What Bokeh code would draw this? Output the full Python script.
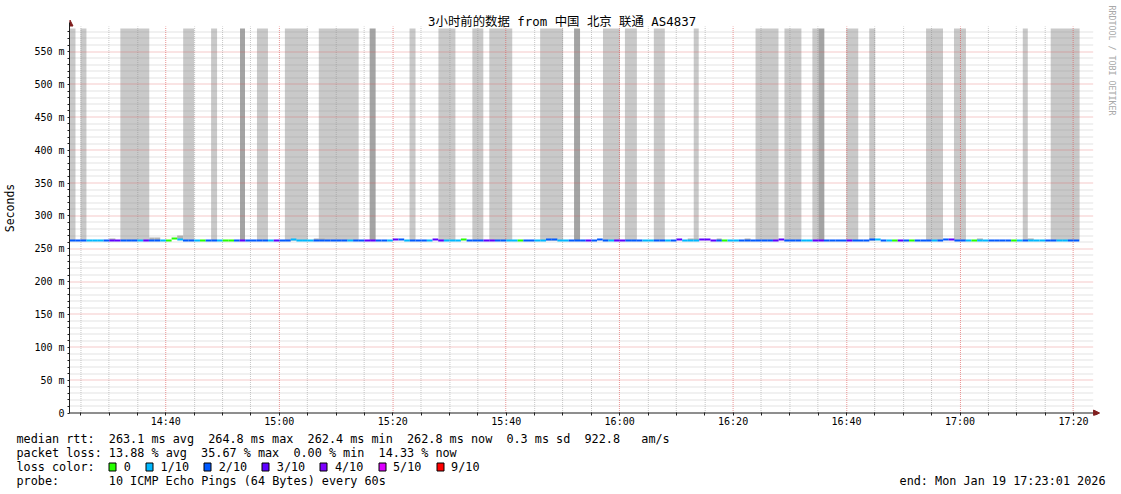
import re
import math
from bokeh.plotting import figure
from bokeh.layouts import column
from bokeh.models import FixedTicker, ColumnDataSource, Range1d
from bokeh.core.properties import value
from bokeh.embed import file_html
from bokeh.resources import INLINE

# ---------------------------------------------------------------- data
TITLE = "3小时前的数据 from 中国 北京 联通 AS4837"
START = "14:23:01"
END = "17:23:01"
Y_LABEL = "Seconds"
SIDE_TEXT = "RRDTOOL / TOBI OETIKER"

X_TICK_LABELS = ["14:40", "15:00", "15:20", "15:40", "16:00", "16:20", "16:40", "17:00", "17:20"]
Y_TICKS = [0, 50, 100, 150, 200, 250, 300, 350, 400, 450, 500, 550]
Y_TICK_LABELS = ["0", "50 m", "100 m", "150 m", "200 m", "250 m", "300 m", "350 m",
                 "400 m", "450 m", "500 m", "550 m"]
Y_UPPER = 587.5      # graph upper limit (ms)

# median rtt (ms) per 60 s step, starting at START
MEDIAN = [
    263.0, 263.1, 263.0, 263.0, 262.9, 263.0, 263.0, 263.1, 263.0, 263.0,
    263.0, 263.0, 262.9, 263.0, 263.0, 263.1, 263.0, 263.0, 265.8, 264.5,
    263.0, 263.0, 263.0, 262.9, 263.0, 263.0, 263.0, 263.1, 263.0, 263.0,
    263.0, 263.0, 263.0, 262.9, 263.0, 263.0, 263.1, 263.0, 263.0, 264.5,
    263.0, 263.0, 263.0, 263.1, 263.0, 263.0, 262.9, 263.0, 263.0, 263.0,
    263.0, 263.1, 263.0, 263.0, 263.0, 262.9, 263.0, 264.5, 264.4, 263.0,
    263.0, 263.0, 263.1, 263.0, 264.5, 263.0, 263.0, 262.9, 263.0, 264.4,
    263.0, 263.1, 263.0, 263.0, 263.0, 263.0, 262.9, 263.0, 263.0, 263.1,
    263.0, 263.0, 263.0, 263.0, 264.5, 264.4, 263.0, 263.0, 263.1, 263.0,
    263.0, 263.0, 262.9, 264.5, 263.0, 263.0, 263.0, 263.1, 263.0, 263.0,
    263.0, 263.0, 263.0, 262.9, 263.0, 263.0, 263.0, 264.5, 263.0, 263.1,
    263.0, 264.5, 264.4, 263.0, 263.0, 263.0, 262.9, 263.0, 263.0, 263.0,
    263.1, 263.0, 263.0, 263.0, 263.0, 264.5, 263.0, 263.0, 262.9, 263.0,
    263.0, 263.0, 263.1, 263.0, 263.0, 263.0, 263.0, 263.0, 262.9, 263.0,
    263.0, 264.5, 264.4, 263.0, 263.0, 263.1, 263.0, 263.0, 263.0, 263.0,
    262.9, 263.0, 263.0, 263.0, 264.5, 264.4, 263.0, 263.1, 263.0, 263.0,
    263.0, 263.0, 263.0, 262.9, 263.0, 263.0, 263.0, 262.2, 263.0, 263.1,
    263.0, 263.0, 263.0, 263.0, 262.9, 263.0, 263.0, 263.0, None, None,
]

# lost pings out of 10 per step
LOSS = [
    2, 2, 2, 1, 1, 1, 2, 3, 3, 2,
    2, 2, 1, 3, 2, 2, 1, 0, 0, 1,
    2, 2, 1, 0, 2, 2, 1, 0, 0, 2,
    3, 2, 2, 2, 2, 1, 3, 2, 2, 1,
    1, 1, 1, 2, 2, 2, 2, 2, 2, 1,
    2, 2, 3, 3, 2, 2, 1, 3, 2, 1,
    2, 2, 2, 1, 3, 3, 1, 1, 1, 0,
    2, 2, 2, 3, 3, 2, 2, 1, 1, 0,
    2, 2, 1, 1, 2, 2, 1, 1, 2, 2,
    2, 3, 2, 2, 2, 1, 3, 3, 2, 2,
    2, 1, 1, 2, 2, 1, 2, 3, 1, 1,
    1, 3, 3, 3, 2, 0, 1, 1, 2, 2,
    2, 2, 2, 2, 3, 3, 2, 2, 2, 1,
    1, 3, 3, 2, 2, 2, 2, 3, 2, 2,
    2, 2, 1, 2, 1, 0, 3, 2, 0, 2,
    2, 2, 1, 2, 2, 3, 2, 2, 1, 0,
    1, 1, 2, 2, 2, 2, 0, 1, 2, 1,
    1, 1, 2, 2, 1, 1, 2, 2, None, None,
]

# smoke that runs off the top of the graph (clock time ranges); dark = 2 layers
SMOKE_START = ["14:23", "14:25", "14:32", "14:43", "14:48", "14:53", "14:56", "15:01",
               "15:07", "15:16", "15:23", "15:28", "15:34", "15:37", "15:46", "15:52",
               "15:57", "16:01", "16:06", "16:13", "16:24", "16:29", "16:34", "16:35",
               "16:40", "16:44", "16:54", "16:59", "17:11", "17:16"]
SMOKE_END = ["14:24", "14:26", "14:37", "14:45", "14:49", "14:54", "14:58", "15:05",
             "15:14", "15:17", "15:24", "15:31", "15:36", "15:41", "15:50", "15:53",
             "16:00", "16:03", "16:08", "16:14", "16:28", "16:32", "16:35", "16:36",
             "16:42", "16:45", "16:57", "17:01", "17:12", "17:21"]
SMOKE_DARK = [0, 0, 0, 0, 0, 1, 0, 0, 0, 1, 0, 0, 0, 0, 0, 1,
              0, 0, 0, 0, 0, 0, 0, 1, 0, 0, 0, 0, 0, 0]
SMOKE_TOP = 585.0

# small smoke just above the median (step index, max rtt ms)
SMALL_SMOKE_STEP = [7, 14, 15, 19, 43, 44, 109, 110, 114, 119, 160, 169]
SMALL_SMOKE_MAX = [265.6, 267.0, 267.0, 270.0, 265.5, 265.5, 266.0, 266.0, 266.0, 266.0, 266.0, 266.0]

LOSS_LEVELS = [0, 1, 2, 3, 4, 5, 9]
LOSS_LABELS = ["0", "1/10", "2/10", "3/10", "4/10", "5/10", "9/10"]
LOSS_COLORS = ["#26ff00", "#00b8ff", "#0059ff", "#5e00ff", "#7e00ff", "#dd00ff", "#ff0000"]

LEGEND_1 = "median rtt:  263.1 ms avg  264.8 ms max  262.4 ms min  262.8 ms now  0.3 ms sd  922.8   am/s"
LEGEND_2 = "packet loss: 13.88 % avg  35.67 % max  0.00 % min  14.33 % now"
LEGEND_3 = "loss color:"
LEGEND_4 = "probe:       10 ICMP Echo Pings (64 Bytes) every 60s"
END_TEXT = "end: Mon Jan 19 17:23:01 2026"

# ---------------------------------------------------------------- helpers
def clock(s):
    parts = [int(v) for v in s.split(":")]
    sec = parts[2] if len(parts) > 2 else 0
    return (parts[0] - 14) * 60 + parts[1] + sec / 60.0   # minutes since 14:00

t_start = clock(START)
t_end = clock(END)

MONO = "DejaVu Sans Mono, Noto Sans CJK SC, monospace"

# page geometry (canvas starts at page 0,0)
W = 1121
H_MAIN = 430
H_LEG = 64
FL = 66                 # frame left (y axis)
Y0 = 412.5              # page position of value 0 (centre of pixel row 412)
FRAME_BOTTOM = 415
PLOT_RIGHT = 1093       # right end of the time axis area
PX_PER_MIN = 1024 / (t_end - t_start)
PX_PER_MS = 386 / Y_UPPER

def dx(px):
    return t_start + (px - FL) / PX_PER_MIN

def dy(py):
    return (Y0 - py) / PX_PER_MS

def px_of(t):
    return FL + (t - t_start) * PX_PER_MIN

def py_of(v):
    return Y0 - v * PX_PER_MS

# pixel snapping helpers (rendering only)
def crisp_x(t):
    return dx(math.floor(px_of(t)) + 0.5)

def crisp_y(v):
    return dy(math.floor(py_of(v)) + 0.5)

def edge_x(t):
    return dx(round(px_of(t)))

def edge_y(v):
    return dy(round(py_of(v)))

p = figure(width=W, height=H_MAIN, output_backend="svg", toolbar_location=None,
           min_border_left=FL, min_border_right=0,
           min_border_top=0, min_border_bottom=H_MAIN - FRAME_BOTTOM,
           x_range=Range1d(t_start, dx(W)),
           y_range=Range1d(dy(FRAME_BOTTOM), dy(0)),
           background_fill_color="white", border_fill_color="white")
p.outline_line_color = None
p.title.visible = False
p.grid.visible = False

# ---------------------------------------------------------------- smoke
for dark_flag, col in ((0, "#c9c9c9"), (1, "#a4a4a4")):
    idx = [i for i, d in enumerate(SMOKE_DARK) if d == dark_flag]
    src = ColumnDataSource(dict(
        left=[edge_x(clock(SMOKE_START[i])) for i in idx],
        right=[edge_x(clock(SMOKE_END[i])) for i in idx],
        bottom=[262.0] * len(idx),
        top=[edge_y(SMOKE_TOP)] * len(idx)))
    p.quad(left="left", right="right", bottom="bottom", top="top", source=src,
           fill_color=col, line_color=None)

ss = ColumnDataSource(dict(
    left=[edge_x(t_start + i) for i in SMALL_SMOKE_STEP],
    right=[edge_x(t_start + i + 1) for i in SMALL_SMOKE_STEP],
    bottom=[MEDIAN[i] for i in SMALL_SMOKE_STEP],
    top=[edge_y(v) for v in SMALL_SMOKE_MAX]))
p.quad(left="left", right="right", bottom="bottom", top="top", source=ss,
       fill_color="#b4b4b4", line_color=None)

# ---------------------------------------------------------------- grid (over the smoke)
x_ticks = [clock(s) for s in X_TICK_LABELS]
x_minor = [v for v in range(25, 205, 5) if v not in x_ticks]
y_minor = [v for v in range(10, 590, 10) if v not in Y_TICKS]
ymaj = Y_TICKS[1:]
x_right = dx(PLOT_RIGHT)
y_top = dy(26)

def vlines(ts, color, alpha):
    xs = [crisp_x(t) for t in ts]
    p.segment(x0=xs, y0=[0] * len(xs), x1=xs, y1=[y_top] * len(xs),
              line_color=color, line_alpha=alpha, line_width=1, line_dash="1 1")

def hlines(vs, color, alpha):
    ys = [crisp_y(v) for v in vs]
    p.segment(x0=[t_start] * len(ys), y0=ys, x1=[x_right] * len(ys), y1=ys,
              line_color=color, line_alpha=alpha, line_width=1, line_dash="1 1")

vlines(x_minor, "#8f8f8f", 0.5)
hlines(y_minor, "#8f8f8f", 0.5)
vlines(x_ticks, "#de4f4f", 0.6)
hlines(ymaj, "#de4f4f", 0.6)

# ---------------------------------------------------------------- median
x0, x1, ys, cols = [], [], [], []
for i, (m, l) in enumerate(zip(MEDIAN, LOSS)):
    if m is None:
        continue
    x0.append(t_start + i)
    x1.append(t_start + i + 1)
    ys.append(edge_y(m))
    cols.append(LOSS_COLORS[LOSS_LEVELS.index(l)])
med = ColumnDataSource(dict(x0=x0, x1=x1, y=ys, c=cols))
p.segment(x0="x0", y0="y", x1="x1", y1="y", source=med, line_color="c",
          line_width=2, line_cap="butt")

# ---------------------------------------------------------------- axes
AXC = "#1f1f1f"
p.segment(x0=[t_start], y0=[0], x1=[dx(1094)], y1=[0], line_color=AXC, line_width=1)

xa = p.xaxis[0]
xa.ticker = FixedTicker(ticks=x_ticks, minor_ticks=x_minor)
xa.major_label_overrides = {int(v): s for v, s in zip(x_ticks, X_TICK_LABELS)}
xa.axis_line_color = None
xa.major_tick_in = 3
xa.major_tick_out = 0
xa.minor_tick_in = 3
xa.minor_tick_out = 0
xa.major_label_standoff = 0

ya = p.yaxis[0]
ya.ticker = FixedTicker(ticks=Y_TICKS, minor_ticks=y_minor)
ya.major_label_overrides = {v: s for v, s in zip(Y_TICKS, Y_TICK_LABELS)}
ya.bounds = (0, dy(22))
ya.axis_line_color = AXC
ya.major_tick_in = 0
ya.major_tick_out = 2
ya.minor_tick_in = 0
ya.minor_tick_out = 2
ya.major_label_standoff = 3
ya.axis_label = Y_LABEL
ya.axis_label_text_font = MONO
ya.axis_label_text_font_size = "11.5px"
ya.axis_label_text_font_style = "normal"
ya.axis_label_text_color = "#000000"
ya.axis_label_standoff = 14

for ax in (xa, ya):
    ax.major_tick_line_color = AXC
    ax.minor_tick_line_color = AXC
    ax.major_label_text_font = MONO
    ax.major_label_text_font_size = "10px"
    ax.major_label_text_color = "#000000"

AC = "#801f1f"
p.patch(x=[dx(63.5), dx(69.5), dx(66.5)], y=[dy(25.5), dy(25.5), dy(19.5)],
        fill_color=AC, line_color=AC)
p.patch(x=[dx(1093), dx(1093), dx(1099)], y=[dy(409.5), dy(415.5), dy(412.5)],
        fill_color=AC, line_color=AC)

# title and side credit (inside the frame area)
p.text(x=[dx(560)], y=[dy(20.5)], text=[TITLE], text_font=value(MONO),
       text_font_size=value("12.4px"), text_align="center", text_baseline="middle",
       text_color="#000000")
p.text(x=[dx(1111)], y=[dy(60)], text=[SIDE_TEXT], text_font=value(MONO),
       text_font_size=value("8.3px"), text_align="center", text_baseline="middle",
       text_color="#a8a8a8", angle=-math.pi / 2)

# ---------------------------------------------------------------- legend panel
q = figure(width=W, height=H_LEG, output_backend="svg", toolbar_location=None,
           x_range=Range1d(0, W), y_range=Range1d(H_LEG, 0),
           x_axis_type=None, y_axis_type=None,
           min_border_left=0, min_border_right=0, min_border_top=0, min_border_bottom=0,
           background_fill_color="white", border_fill_color="white")
q.outline_line_color = None
q.grid.visible = False
q.title.visible = False

for f in (p, q):
    if "frame_align" in f.properties():
        f.frame_align = False

CW = 7.1
LX = 16
tx, ty, tt = [], [], []
def add_line(s, py):
    for m in re.finditer(r"\S+(?: \S+)*", s):
        tx.append(LX + m.start() * CW)
        ty.append(py - H_MAIN)
        tt.append(m.group())

add_line(LEGEND_1, 438)
add_line(LEGEND_2, 452)
add_line(LEGEND_3, 466)
add_line(LEGEND_4, 480)

bl, br, bt, bb, bc = [], [], [], [], []
bx = LX + 13 * CW
for lab, col in zip(LOSS_LABELS, LOSS_COLORS):
    bl.append(round(bx) + 0.5)
    br.append(round(bx) + 7.5)
    bt.append(462.5 - H_MAIN)
    bb.append(470.5 - H_MAIN)
    bc.append(col)
    tx.append(bx + 15)
    ty.append(466 - H_MAIN)
    tt.append(lab)
    bx += 29.7 + len(lab) * CW

q.quad(left=bl, right=br, top=bt, bottom=bb, fill_color=bc, line_color="#000000", line_width=1)
q.text(x=tx, y=ty, text=tt, text_font=value(MONO), text_font_size=value("11.8px"),
       text_baseline="middle", text_align="left", text_color="#000000")
q.text(x=[1105], y=[480 - H_MAIN], text=[END_TEXT], text_font=value(MONO),
       text_font_size=value("11.8px"), text_baseline="middle", text_align="right",
       text_color="#000000")

layout = column(p, q, spacing=0)
open("out.html", "w").write(file_html(layout, INLINE))
